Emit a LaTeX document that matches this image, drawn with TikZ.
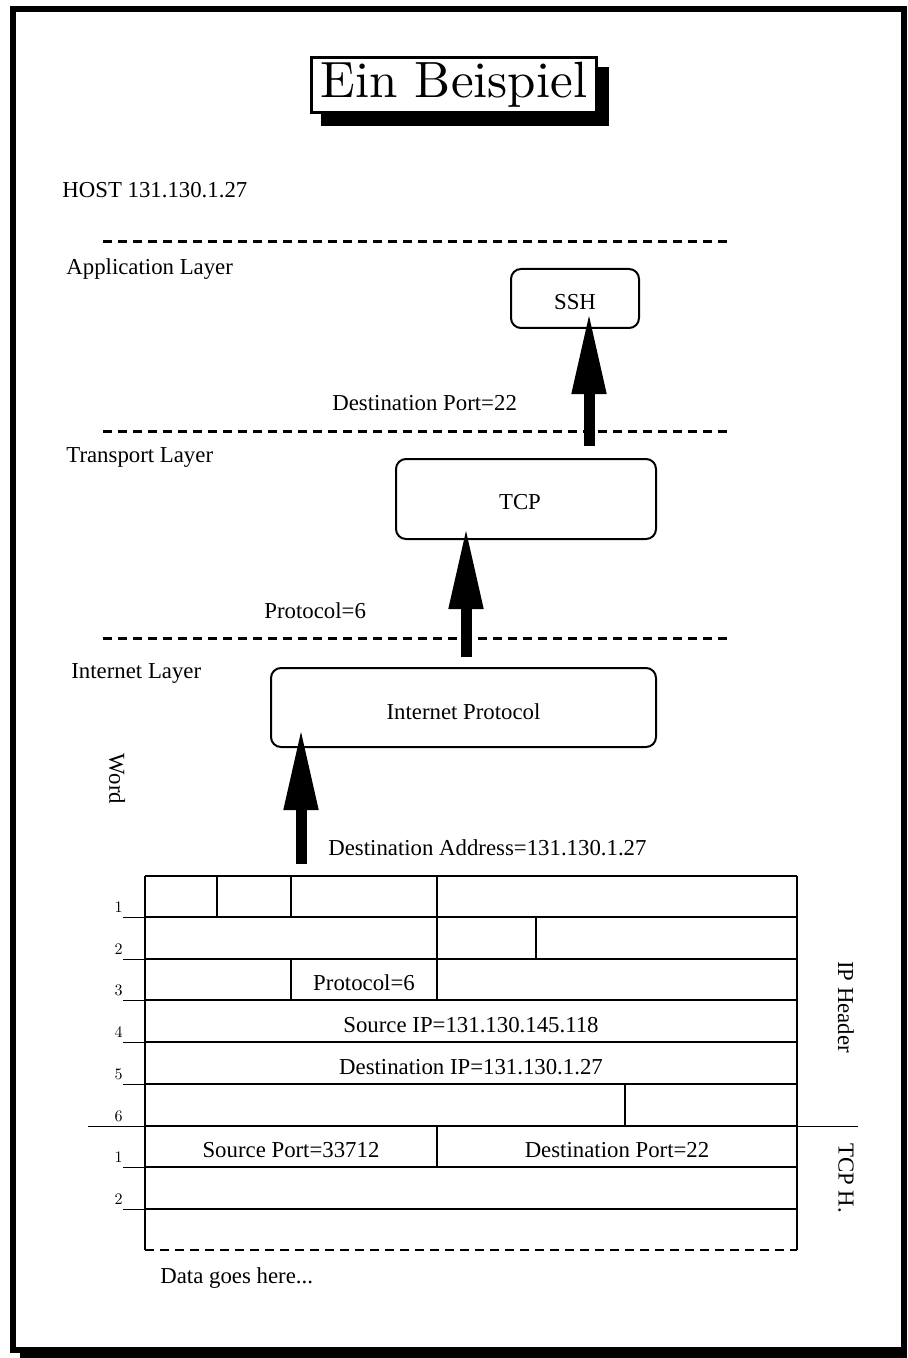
\documentclass[tikz,border=0pt]{standalone}
\usepackage{fontspec}
\newfontfamily\tms{Liberation Serif}
\newfontfamily\cmten[Extension=.otf]{lmroman10-regular}
\usetikzlibrary{arrows.meta}
\begin{document}
\begin{tikzpicture}[x=0.5pt,y=-0.5pt,
  txt/.style={font=\tms\fontsize{11.4}{13}\selectfont, inner sep=0},
  num/.style={font=\cmten\fontsize{8}{9}\selectfont, inner sep=0, anchor=base east},
  layerbox/.style={draw, line width=1pt, rounded corners=5pt, inner sep=0, anchor=base,
    font=\tms\fontsize{11.4}{13}\selectfont},
  layerline/.style={line width=1.5pt, dash pattern=on 4.5pt off 3pt},
  bigarrow/.style={line width=5.5pt, -{Triangle[length=41pt,width=16pt]}},
  tbl/.style={line width=1.25pt},
  tick/.style={line width=0.5pt}]
\useasboundingbox (0,0) rectangle (907,1358);
% outer frame with shadow
\fill[black] (20,16) rectangle (907,1358);
\draw[line width=3pt, fill=white] (13,9) rectangle (904,1350);
% title
\fill[black] (321,67) rectangle (609,126);
\node[draw, line width=1.35pt, fill=white, minimum width=142.6pt, minimum height=27.6pt,
  inner sep=0, font=\cmten\fontsize{25.5}{30}\selectfont] (title) at (454,85) {Ein Beispiel};
% host and layers
\node[txt, anchor=base west] (host) at (62,198) {HOST 131.130.1.27};
\draw[layerline] (103,242) -- (730,242);
\draw[layerline] (103,431) -- (730,431);
\draw[layerline] (103,638) -- (730,638);
\node[txt, anchor=base west] (app) at (66,275) {Application Layer};
\node[txt, anchor=base west] (trans) at (66,462) {Transport Layer};
\node[txt, anchor=base west] (inet) at (71,678) {Internet Layer};
% boxes
\node[layerbox, minimum width=64pt, text height=20.5pt, text depth=9pt] (ssh) at (575,310) {SSH};
\node[layerbox, minimum width=130pt, text height=25pt, text depth=15pt] (tcp) at (526,509) {\hspace*{-6pt}TCP};
\node[layerbox, minimum width=192.5pt, text height=25.5pt, text depth=14pt] (ip) at (463.5,719) {Internet Protocol};
% labels
\node[txt, anchor=base west] (dport) at (332,410) {Destination Port=22};
\node[txt, anchor=base west] (proto) at (264,618) {Protocol=6};
\node[txt, anchor=base west] (daddr) at (328,855) {Destination Address=131.130.1.27};
% arrows
\coordinate (a1s) at (589,446); \coordinate (a1e) at (589,312);
\coordinate (a2s) at (466,657); \coordinate (a2e) at (466,527);
\coordinate (a3s) at (301,864); \coordinate (a3e) at (301,728);
\draw[bigarrow] (a1s) -- (a1e);
\draw[bigarrow] (a2s) -- (a2e);
\draw[bigarrow] (a3s) -- (a3e);
% rotated labels
\node[txt, rotate=-90] (word) at (117,779) {Word};
\node[txt, rotate=-90] (iph) at (846,1007) {IP Header};
\node[txt, rotate=-90] (tcph) at (846,1178) {TCP H.};
% table
\draw[tbl] (145,876) -- (797,876);
\draw[tbl] (145,876) -- (145,1250);
\draw[tbl] (797,876) -- (797,1250);
\foreach \yy in {917,959,1000,1042,1084,1126,1167,1209}
  \draw[tbl] (145,\yy) -- (797,\yy);
\draw[tick] (88,1126) -- (145,1126);
\draw[tick] (797,1126) -- (858,1126);
\draw[tbl, dash pattern=on 4.5pt off 3pt] (145,1250) -- (797,1250);
% vertical dividers
\draw[tbl] (217,876) -- (217,917);
\draw[tbl] (291,876) -- (291,917);
\draw[tbl] (437,876) -- (437,1000);
\draw[tbl] (536,917) -- (536,959);
\draw[tbl] (291,959) -- (291,1000);
\draw[tbl] (625,1084) -- (625,1126);
\draw[tbl] (437,1126) -- (437,1167);
% ticks and numbers
\foreach \yy/\nn in {917/1,959/2,1000/3,1042/4,1084/5,1167/1,1209/2}{
  \draw[tick] (123,\yy) -- (145,\yy);
  \node[num] at (123,\yy-4.5) {\nn};
}
\node[num] at (123,1121.5) {6};
% table texts
\node[txt, anchor=base] (tproto) at (364,990) {Protocol=6};
\node[txt, anchor=base] (srcip) at (471,1032) {Source IP=131.130.145.118};
\node[txt, anchor=base] (dstip) at (471,1074) {Destination IP=131.130.1.27};
\node[txt, anchor=base] (sport) at (291,1157) {Source Port=33712};
\node[txt, anchor=base] (dport2) at (617,1157) {Destination Port=22};
\node[txt, anchor=base west] (data) at (160,1283) {Data goes here...};
\end{tikzpicture}
\end{document}
